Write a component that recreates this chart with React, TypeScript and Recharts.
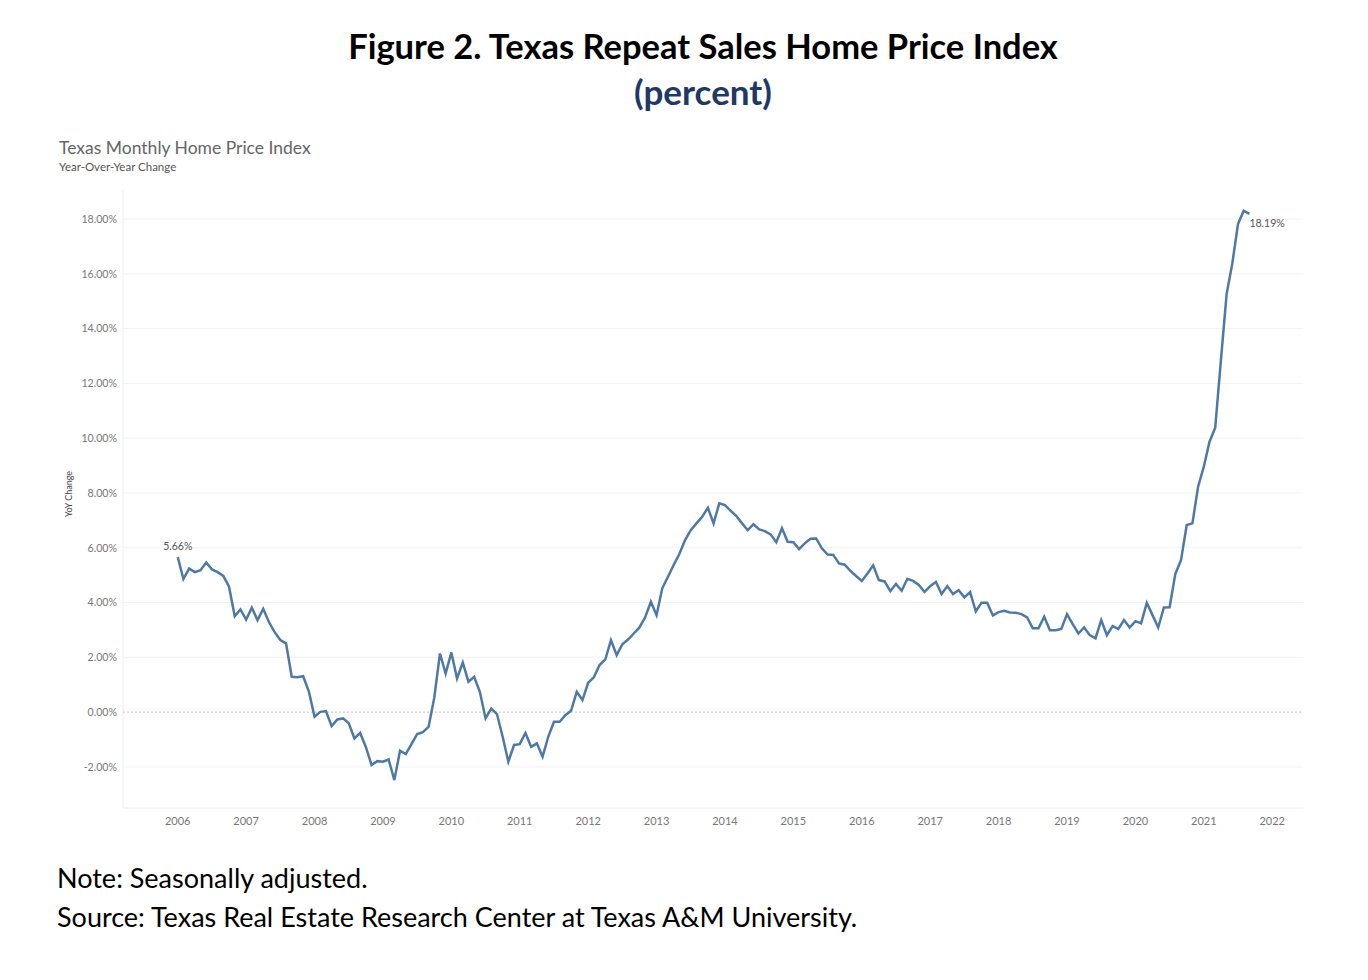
import { Line, LineChart, ReferenceLine, XAxis, YAxis } from 'recharts'

// year-over-year change (%), one array per year, Jan..Dec
const yoy2006 = [5.66, 4.86, 5.24, 5.11, 5.18, 5.46, 5.21, 5.11, 4.97, 4.58, 3.5, 3.75]
const yoy2007 = [3.38, 3.81, 3.36, 3.77, 3.29, 2.92, 2.63, 2.51, 1.29, 1.27, 1.31, 0.76]
const yoy2008 = [-0.17, 0.01, 0.04, -0.51, -0.27, -0.23, -0.41, -0.96, -0.76, -1.27, -1.93, -1.79]
const yoy2009 = [-1.81, -1.73, -2.48, -1.41, -1.53, -1.17, -0.8, -0.73, -0.54, 0.52, 2.14, 1.41]
const yoy2010 = [2.18, 1.23, 1.81, 1.11, 1.29, 0.74, -0.23, 0.13, -0.07, -0.9, -1.81, -1.2]
const yoy2011 = [-1.17, -0.76, -1.27, -1.14, -1.63, -0.9, -0.35, -0.35, -0.11, 0.05, 0.74, 0.44]
const yoy2012 = [1.07, 1.27, 1.72, 1.92, 2.63, 2.08, 2.48, 2.65, 2.87, 3.09, 3.46, 4.03]
const yoy2013 = [3.54, 4.52, 4.94, 5.37, 5.77, 6.28, 6.64, 6.89, 7.13, 7.46, 6.89, 7.62]
const yoy2014 = [7.56, 7.35, 7.16, 6.89, 6.64, 6.86, 6.67, 6.61, 6.49, 6.2, 6.71, 6.22]
const yoy2015 = [6.2, 5.95, 6.16, 6.33, 6.34, 5.98, 5.75, 5.74, 5.43, 5.38, 5.16, 4.97]
const yoy2016 = [4.79, 5.06, 5.36, 4.82, 4.77, 4.42, 4.68, 4.43, 4.87, 4.79, 4.64, 4.39]
const yoy2017 = [4.6, 4.75, 4.31, 4.6, 4.31, 4.45, 4.19, 4.38, 3.68, 3.99, 3.99, 3.53]
const yoy2018 = [3.65, 3.7, 3.64, 3.63, 3.58, 3.46, 3.06, 3.06, 3.48, 2.99, 2.99, 3.04]
const yoy2019 = [3.58, 3.21, 2.87, 3.09, 2.81, 2.69, 3.36, 2.81, 3.14, 3.04, 3.36, 3.09]
const yoy2020 = [3.32, 3.24, 3.99, 3.54, 3.09, 3.82, 3.83, 5.04, 5.55, 6.83, 6.89, 8.23]
const yoy2021 = [8.96, 9.87, 10.38, 12.85, 15.26, 16.38, 17.82, 18.3, 18.19]

const seriesByYear = [
  yoy2006, yoy2007, yoy2008, yoy2009, yoy2010, yoy2011, yoy2012, yoy2013,
  yoy2014, yoy2015, yoy2016, yoy2017, yoy2018, yoy2019, yoy2020, yoy2021,
]

const yearLabels = [
  2006, 2007, 2008, 2009, 2010, 2011, 2012, 2013, 2014,
  2015, 2016, 2017, 2018, 2019, 2020, 2021, 2022,
]
const yTicks = [-2, 0, 2, 4, 6, 8, 10, 12, 14, 16, 18]

const data = seriesByYear.flatMap((vals, y) =>
  vals.map((v, m) => ({ t: y * 12 + m, yoy: v }))
)
const lastIndex = data.length - 1

const chartFont = 'Lato, "Open Sans", sans-serif'

const PointLabel = (props: any) => {
  const { x, y, index, value } = props
  if (index === 0) {
    return (
      <text x={x} y={y - 7} textAnchor="middle" fontSize={10.5} fill="#555" fontFamily={chartFont}>
        {value.toFixed(2)}%
      </text>
    )
  }
  if (index === lastIndex) {
    return (
      <text x={x} y={y + 13} textAnchor="start" fontSize={10.5} fill="#555" fontFamily={chartFont}>
        {value.toFixed(2)}%
      </text>
    )
  }
  return null
}

const App = () => {
  return (
    <div
      style={{
        position: 'relative',
        width: 1368,
        height: 980,
        margin: -8,
        background: '#fff',
        fontFamily: chartFont,
      }}
    >
      <div
        style={{
          position: 'absolute',
          top: 24,
          left: 0,
          width: 1406,
          textAlign: 'center',
          fontSize: 34.5,
          fontWeight: 700,
          color: '#000',
          lineHeight: '44px',
        }}
      >
        Figure 2. Texas Repeat Sales Home Price Index
      </div>
      <div
        style={{
          position: 'absolute',
          top: 69,
          left: 0,
          width: 1406,
          textAlign: 'center',
          fontSize: 35,
          fontWeight: 700,
          color: '#1f3864',
          lineHeight: '44px',
        }}
      >
        (percent)
      </div>

      <div style={{ position: 'absolute', top: 137, left: 59, fontSize: 17.5, color: '#666', lineHeight: '22px' }}>
        Texas Monthly Home Price Index
      </div>
      <div style={{ position: 'absolute', top: 160, left: 59, fontSize: 11.5, color: '#555', lineHeight: '14px' }}>
        Year-Over-Year Change
      </div>
      <div
        style={{
          position: 'absolute',
          top: 494,
          left: 69,
          fontSize: 9,
          color: '#444',
          transform: 'translate(-50%, -50%) rotate(-90deg)',
          whiteSpace: 'nowrap',
          lineHeight: '12px',
        }}
      >
        YoY Change
      </div>

      <div style={{ position: 'absolute', top: 0, left: 0 }}>
        <LineChart
          width={1368}
          height={980}
          data={data}
          margin={{ top: 190, right: 65, bottom: 142, left: 63 }}
        >
          <XAxis
            dataKey="t"
            type="number"
            domain={[-9.6, 197.4]}
            ticks={yearLabels.map((_, i) => i * 12)}
            tickFormatter={(v: number) => String(yearLabels[Math.round(v / 12)])}
            height={30}
            tickLine={false}
            tickSize={0}
            tickMargin={9}
            axisLine={{ stroke: '#eeeeee' }}
            tick={{ fontSize: 11, fill: '#777', fontFamily: chartFont }}
            allowDataOverflow
          />
          <YAxis
            type="number"
            domain={[-3.5, 19.06]}
            ticks={yTicks}
            tickFormatter={(v: number) => `${v.toFixed(2)}%`}
            width={60}
            tickLine={false}
            tickSize={0}
            tickMargin={6}
            axisLine={{ stroke: '#eeeeee' }}
            tick={{ fontSize: 10.6, fill: '#777', fontFamily: chartFont }}
            allowDataOverflow
          />
          {yTicks
            .filter((v) => v !== 0)
            .map((v) => (
              <ReferenceLine key={v} y={v} stroke="#f2f2f2" />
            ))}
          <ReferenceLine y={0} stroke="#c4c4c4" strokeDasharray="2 2" />
          <Line
            type="linear"
            dataKey="yoy"
            stroke="#4e79a7"
            strokeWidth={2.5}
            dot={false}
            isAnimationActive={false}
            label={<PointLabel />}
          />
        </LineChart>
      </div>

      <div style={{ position: 'absolute', top: 861, left: 57, fontSize: 27, color: '#000', lineHeight: '34px' }}>
        Note: Seasonally adjusted.
      </div>
      <div style={{ position: 'absolute', top: 900, left: 57, fontSize: 27, color: '#000', lineHeight: '34px' }}>
        Source: Texas Real Estate Research Center at Texas A&amp;M University.
      </div>
    </div>
  )
}

export default App
